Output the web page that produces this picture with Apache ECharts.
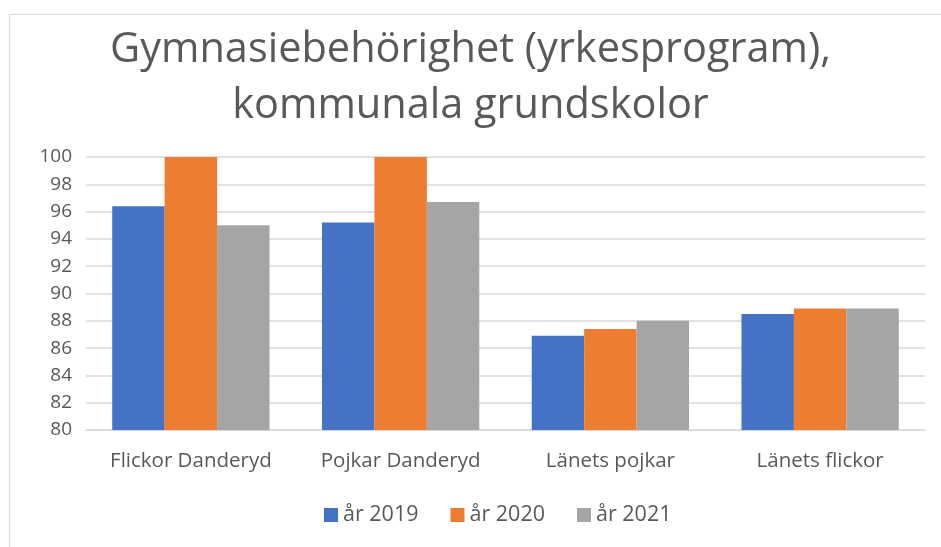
<html lang="sv">
<head>
  <meta charset="utf-8">
  <title>Gymnasiebehörighet</title>
  <script src="https://cdn.jsdelivr.net/npm/echarts@6/dist/echarts.min.js"></script>
  <style>
    html, body { margin: 0; padding: 0; background: #fff; }
    #main { width: 941px; height: 547px; }
  </style>
</head>
<body>
  <div id="main"></div>
</body>
<script>
  // data
  var categories = ['Flickor Danderyd', 'Pojkar Danderyd', 'Länets pojkar', 'Länets flickor'];
  var years = ['år 2019', 'år 2020', 'år 2021'];
  var v2019 = [96.4, 95.2, 86.9, 88.5];
  var v2020 = [100, 100, 87.4, 88.9];
  var v2021 = [95.0, 96.7, 88.0, 88.9];
  var colors = ['#4472C4', '#ED7D31', '#A5A5A5'];

  var fnt = '"Open Sans", "Noto Sans", sans-serif';
  var txt = '#595959';

  var myChart = echarts.init(document.getElementById('main'));
  var seriesData = [v2019, v2020, v2021];
  var series = [];
  for (var i = 0; i < years.length; i++) {
    series.push({
      name: years[i],
      type: 'bar',
      data: seriesData[i],
      barGap: '0%',
      barCategoryGap: '25%',
      itemStyle: { color: colors[i] }
    });
  }

  myChart.setOption({
    animation: false,
    color: colors,
    title: {
      text: 'Gymnasiebehörighet (yrkesprogram),\nkommunala grundskolor',
      left: 'center',
      top: 17,
      textStyle: { fontFamily: fnt, fontSize: 41.5, fontWeight: 'normal', color: txt, lineHeight: 56 }
    },
    legend: {
      data: years,
      bottom: 16,
      left: 319,
      itemWidth: 14,
      itemHeight: 14,
      itemGap: 32,
      icon: 'rect',
      textStyle: { fontFamily: fnt, fontSize: 21.5, color: txt }
    },
    grid: { left: 86, right: 16, top: 157, bottom: 117 },
    xAxis: {
      type: 'category',
      data: categories,
      axisLine: { lineStyle: { color: '#d9d9d9' } },
      axisTick: { show: false },
      axisLabel: { interval: 0, fontFamily: fnt, fontSize: 20.5, color: txt, margin: 21 }
    },
    yAxis: {
      type: 'value',
      min: 80,
      max: 100,
      interval: 2,
      axisLine: { show: false },
      axisTick: { show: false },
      splitLine: { lineStyle: { color: '#d9d9d9', width: 1.5 } },
      axisLabel: { fontFamily: fnt, fontSize: 19, color: txt, margin: 14 }
    },
    graphic: [{
      type: 'rect',
      shape: { x: 9.5, y: 14.5, width: 945, height: 545 },
      style: { fill: 'none', stroke: '#d9d9d9', lineWidth: 1 }
    }],
    series: series
  });
</script>
</html>
